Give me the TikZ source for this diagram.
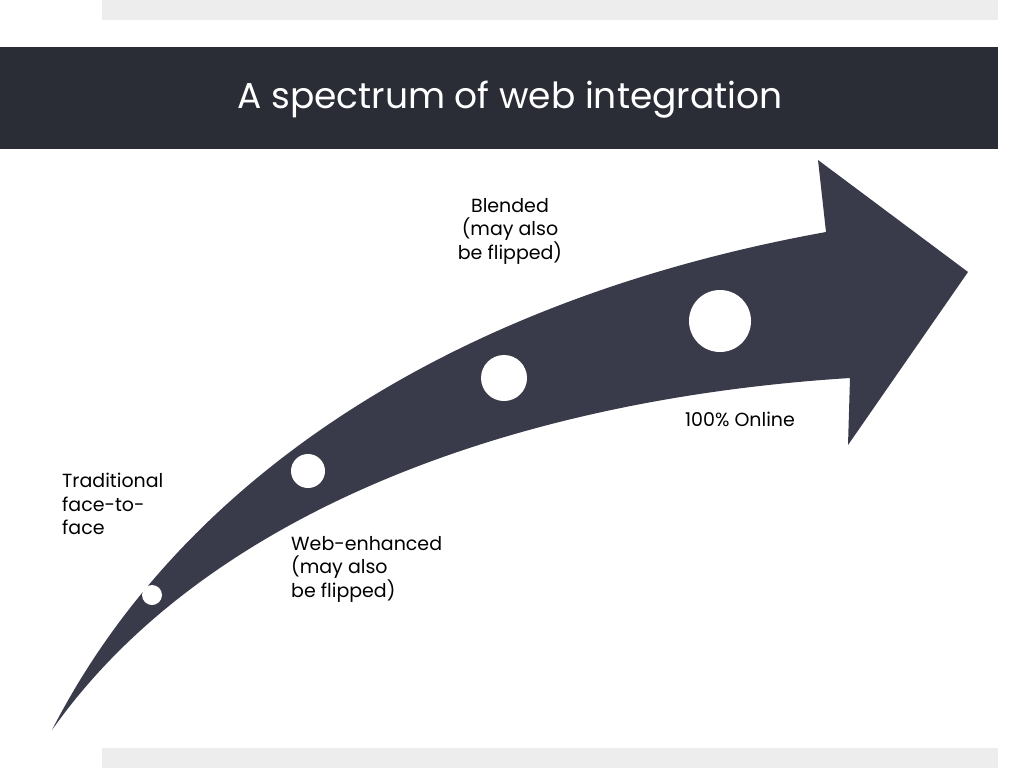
\documentclass[tikz,border=0pt]{standalone}
\usepackage{fontspec}
\setmainfont{Poppins}
\begin{document}
\begin{tikzpicture}[x=1pt,y=-1pt,
  lbl/.style={font=\fontsize{19}{23.5}\selectfont, text=black, inner sep=0pt},
  dot/.style={circle, fill=white, draw=none}]
\useasboundingbox (0,0) rectangle (1024,768);
\fill[white] (0,0) rectangle (1024,768);
\fill[black!7] (102,0) rectangle (998,20);
\fill[black!7] (102,748) rectangle (998,768);
\fill[black!80!blue!90!gray, fill={rgb,255:red,42;green,45;blue,54}] (0,47) rectangle (998,149);
\node (title) at (510,100) {\color{white}\fontsize{36}{40}\selectfont A spectrum of web integration};
\fill[fill={rgb,255:red,58;green,59;blue,74}] (52,730) .. controls (180,480) and (450,300) .. (826,232)
  -- (818,160) -- (968,272) -- (848,445) -- (850,378)
  .. controls (500,400) and (200,520) .. (52,730) -- cycle;
\node[dot, minimum size=20pt] (c1) at (152,595) {};
\node[dot, minimum size=34pt] (c2) at (308,471) {};
\node[dot, minimum size=46pt] (c3) at (504,378) {};
\node[dot, minimum size=62pt] (c4) at (720,321) {};
\node[lbl, align=center, anchor=north] (blended) at (510,198) {Blended\\(may also\\be flipped)};
\node[lbl, anchor=center] (online) at (740,419) {100\% Online};
\node[lbl, align=left, anchor=north west] (trad) at (62,473) {Traditional\\face-to-\\face};
\node[lbl, align=left, anchor=north west] (web) at (291,536) {Web-enhanced\\(may also\\be flipped)};
\end{tikzpicture}
\end{document}
